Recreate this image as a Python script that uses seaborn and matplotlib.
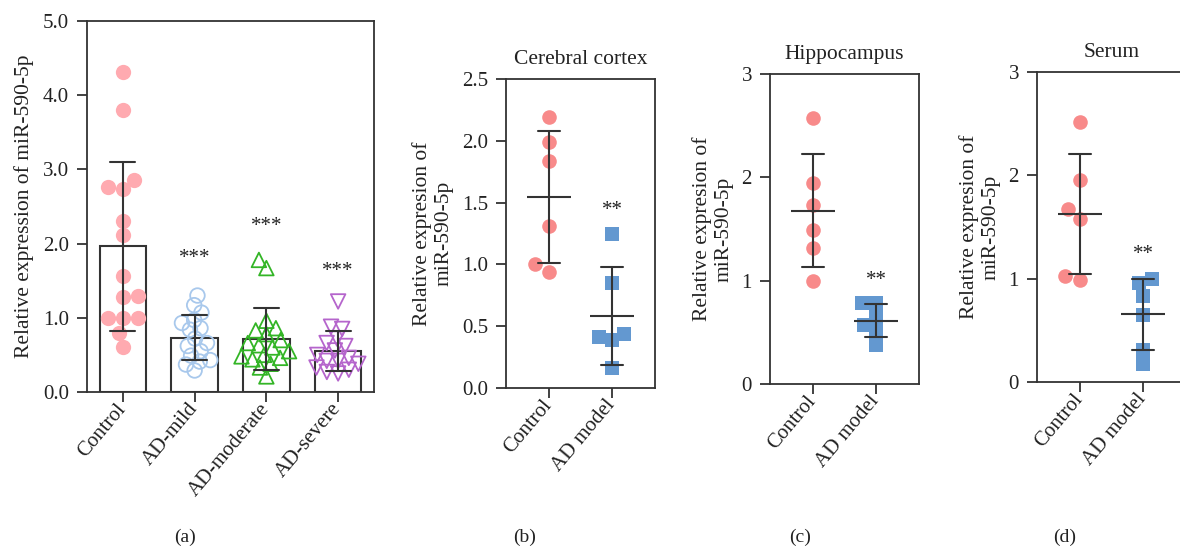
import numpy as np
import pandas as pd
import matplotlib
matplotlib.use("Agg")
import matplotlib.pyplot as plt
import seaborn as sns

# ---------------- data ----------------
groups_a = ["Control", "AD-mild", "AD-moderate", "AD-severe"]
control_a = [4.31, 3.80, 2.86, 2.76, 2.73, 2.31, 2.11, 1.56, 1.28, 1.30,
             1.00, 1.00, 1.00, 0.80, 0.61]
mild_a = [1.30, 1.17, 1.07, 0.97, 0.93, 0.86, 0.84, 0.72, 0.66, 0.62,
          0.55, 0.49, 0.43, 0.41, 0.37, 0.29]
moderate_a = [1.78, 1.67, 0.96, 0.86, 0.83, 0.78, 0.70, 0.66, 0.63, 0.60,
              0.55, 0.50, 0.48, 0.46, 0.44, 0.38, 0.33, 0.21]
severe_a = [1.22, 0.88, 0.85, 0.72, 0.66, 0.62, 0.56, 0.50, 0.46, 0.42,
            0.42, 0.38, 0.33, 0.30, 0.27, 0.25]
stars_a = ["", "***", "***", "***"]
star_y_a = [0.0, 1.80, 2.23, 1.62]

groups_m = ["Control", "AD model"]
cortex_control = [2.19, 1.99, 1.84, 1.31, 1.00, 0.94]
cortex_model = [1.25, 0.85, 0.44, 0.41, 0.385, 0.16]
hippo_control = [2.57, 1.945, 1.73, 1.49, 1.32, 1.00]
hippo_model = [0.78, 0.78, 0.65, 0.57, 0.52, 0.38]
serum_control = [2.52, 1.956, 1.675, 1.58, 1.03, 0.99]
serum_model = [1.00, 0.954, 0.834, 0.653, 0.31, 0.178]
titles = ["Cerebral cortex", "Hippocampus", "Serum"]
star_y_m = [1.44, 1.00, 1.23]
panel_labels = ["(a)", "(b)", "(c)", "(d)"]

# ---------------- style ----------------
sns.set_style("ticks")
plt.rcParams["font.family"] = ["Liberation Serif", "DejaVu Serif"]
DARK = "#333333"
plt.rcParams.update({
    "axes.edgecolor": DARK, "axes.linewidth": 1.3,
    "xtick.color": DARK, "ytick.color": DARK,
    "xtick.major.width": 1.3, "ytick.major.width": 1.3,
    "xtick.major.size": 7, "ytick.major.size": 7,
    "xtick.direction": "out", "ytick.direction": "out",
    "text.color": "#222222", "axes.labelcolor": "#222222",
})

TICK_FS = 15
LABEL_FS = 15.5

fig = plt.figure(figsize=(11.8, 5.52), dpi=100)
W, H = 1180.0, 552.0


def add_ax(l, t, r, b):
    return fig.add_axes([l / W, (H - b) / H, (r - l) / W, (b - t) / H])


def style_box(ax):
    for s in ax.spines.values():
        s.set_visible(True)
        s.set_color(DARK)
        s.set_linewidth(1.3)
    ax.tick_params(axis="both", labelsize=TICK_FS, colors=DARK, labelcolor="#222222")
    for lab in ax.get_xticklabels():
        lab.set_rotation(50)
        lab.set_ha("right")
        lab.set_va("center")
        lab.set_rotation_mode("anchor")
        lab.set_fontsize(TICK_FS)
    ax.tick_params(axis="x", pad=3)
    ax.tick_params(axis="y", pad=6)


# ---------------- panel (a) ----------------
ax_a = add_ax(87, 21, 374, 392)
ax = ax_a
vals_a = [control_a, mild_a, moderate_a, severe_a]
df_a = pd.DataFrame({
    "group": np.repeat(groups_a, [len(v) for v in vals_a]),
    "value": np.concatenate(vals_a),
})
sns.barplot(data=df_a, x="group", y="value", order=groups_a, errorbar="sd",
            capsize=0.35, width=0.65, color="white", saturation=1,
            edgecolor=DARK, linewidth=1.5,
            err_kws={"color": DARK, "linewidth": 1.5}, ax=ax)

colors_a = ["#ffaab0", "#a8c8ec", "#33b526", "#b565cc"]
markers_a = ["o", "o", "^", "v"]
layout_sizes_a = [10.5, 6, 6.5, 6.5]   # spacing used by the swarm layout
draw_sizes_a = [11, 10.5, 10.5, 10.5]  # marker size drawn
hollow_a = [False, True, True, True]
point_sets = []
for g, v, c, m, lsz, dsz, hol in zip(groups_a, vals_a, colors_a, markers_a,
                                     layout_sizes_a, draw_sizes_a, hollow_a):
    n_before = len(ax.collections)
    sns.swarmplot(x=[g] * len(v), y=v, order=groups_a, color=c, marker=m,
                  size=lsz, linewidth=0, ax=ax, warn_thresh=1.0)
    point_sets.append((ax.collections[n_before:], c, hol, dsz))

for colls, c, hol, dsz in point_sets:
    for coll in colls:
        if hol:
            coll.set_facecolor("none")
            coll.set_edgecolor(c)
            coll.set_linewidth(1.3)
        coll.set_zorder(1.5)
for ln in ax.lines:
    ln.set_zorder(3)
for i, (s, y) in enumerate(zip(stars_a, star_y_a)):
    if s:
        ax.text(i, y, s, ha="center", va="center", fontsize=15, color="#222222")
ax.set_ylim(0, 5.0)
ax.set_xlim(-0.5, 3.5)
ax.set_yticks(np.arange(0, 5.01, 1.0))
ax.set_yticklabels([f"{t:.1f}" for t in np.arange(0, 5.01, 1.0)])
ax.set_xlabel("")
ax.set_ylabel("Relative expression of miR-590-5p", fontsize=LABEL_FS, labelpad=6)
style_box(ax)

# ---------------- panels (b)-(d) ----------------
boxes = [(506, 79, 655, 388), (770, 74, 919, 384), (1037, 72, 1186, 382)]
datasets = [(cortex_control, cortex_model), (hippo_control, hippo_model),
            (serum_control, serum_model)]
ylims = [2.5, 3.0, 3.0]
yticks = [np.arange(0, 2.51, 0.5), np.arange(0, 3.01, 1.0), np.arange(0, 3.01, 1.0)]
fmts = ["{:.1f}", "{:.0f}", "{:.0f}"]
for k in range(3):
    ax = add_ax(*boxes[k])
    ctrl, mod = datasets[k]
    df = pd.DataFrame({
        "group": ["Control"] * len(ctrl) + ["AD model"] * len(mod),
        "value": ctrl + mod,
    })
    sns.swarmplot(x=["Control"] * len(ctrl), y=ctrl, order=groups_m,
                  color="#f88a8a", marker="o", size=10.5, linewidth=0, ax=ax,
                  warn_thresh=1.0)
    sns.swarmplot(x=["AD model"] * len(mod), y=mod, order=groups_m,
                  color="#6398d0", marker="s", size=9.5, linewidth=0, ax=ax,
                  warn_thresh=1.0)
    sns.pointplot(data=df, x="group", y="value", order=groups_m, errorbar="sd",
                  capsize=0.35, color=DARK, marker="_", markersize=31,
                  markeredgewidth=1.5, linestyle="none",
                  err_kws={"linewidth": 1.5}, ax=ax)
    for ln in ax.lines:
        ln.set_zorder(3)
    ax.text(1, star_y_m[k], "**", ha="center", va="center", fontsize=15,
            color="#222222")
    ax.set_xlim(-0.67, 1.67)
    ax.set_ylim(0, ylims[k])
    ax.set_yticks(yticks[k])
    ax.set_yticklabels([fmts[k].format(t) for t in yticks[k]])
    ax.set_xlabel("")
    ax.set_ylabel("Relative expresion of\nmiR-590-5p", fontsize=LABEL_FS,
                  labelpad=6, linespacing=1.15)
    ax.set_title(titles[k], fontsize=LABEL_FS, pad=11)
    style_box(ax)

for lab, x in zip(panel_labels, [185, 525, 800, 1065]):
    fig.text(x / W, 1 - 537 / H, lab, ha="center", va="center", fontsize=14)

# Run seaborn's swarm layout once, then keep those positions and enlarge the
# markers so they may overlap (as in the reference).
fig.canvas.draw()
for colls, c, hol, dsz in point_sets:
    for coll in colls:
        if "draw" in coll.__dict__:
            del coll.__dict__["draw"]
        coll.set_sizes([dsz ** 2])

fig.savefig("out.png", dpi=100)
